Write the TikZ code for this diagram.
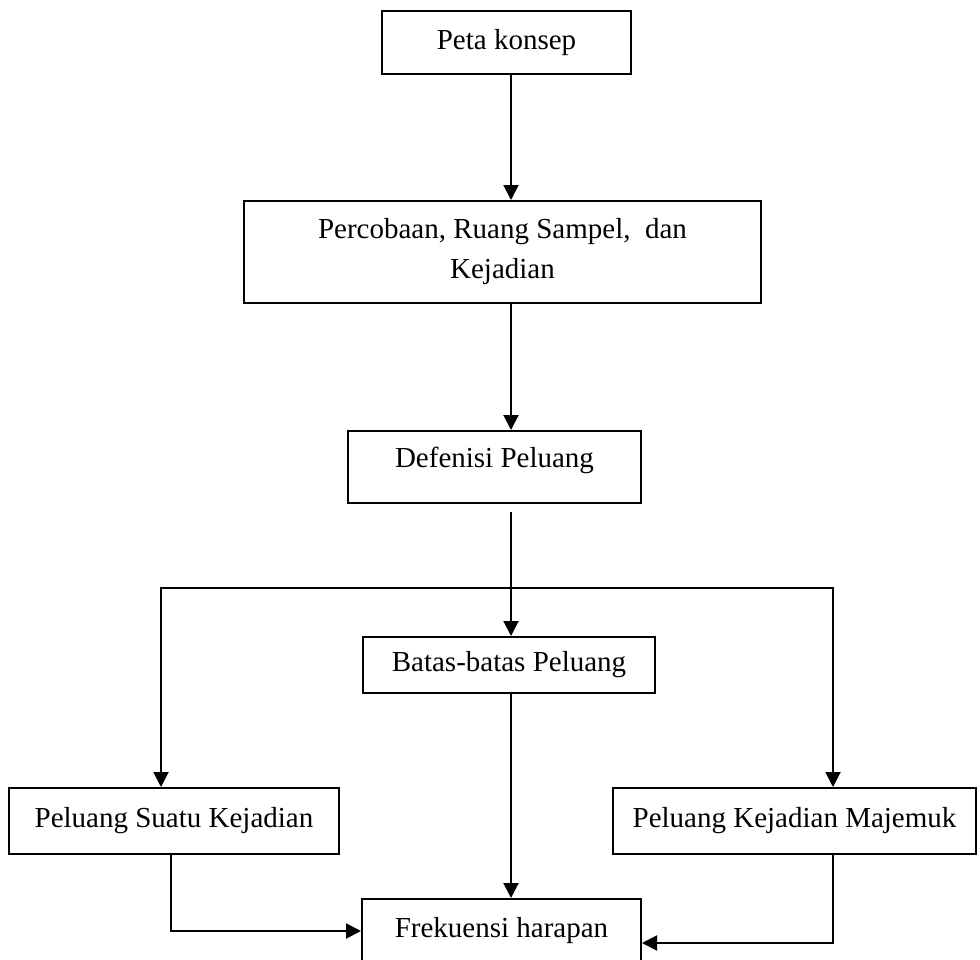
\documentclass[tikz,border=0pt]{standalone}
\usepackage{fontspec}
\setmainfont{Liberation Serif}
\usetikzlibrary{arrows.meta}

\begin{document}
\begin{tikzpicture}[
	x=0.5pt, y=-0.5pt,
	>={Triangle[length=7.5pt,width=7.5pt]},
	micaja/.style ={draw, line width=1pt, inner sep=0pt, align=center, font=\fontsize{14.5}{20}\selectfont},
	miflecha/.style ={->, line width=1pt},
	milinea/.style ={line width=1pt}]

	\useasboundingbox (0,0) rectangle (980,959);

	\def\ejex{511}% columna central de flechas
	\def\izq{161}
	\def\der{833}
	\def\ramal{588}

	\coordinate (eje) at (\ejex,0);
	\coordinate (RI) at (\izq,\ramal);
	\coordinate (RD) at (\der,\ramal);
	\coordinate (BI) at (171,0);

	\node [micaja, minimum width=124.5pt, minimum height=31.5pt] (peta) at (506.5,42.5) {Peta konsep};
	\node [micaja, minimum width=258.5pt, minimum height=51pt] (percobaan) at (502.5,252) {Percobaan, Ruang Sampel,\ \ dan\\Kejadian};
	\node [micaja, minimum width=146.5pt, minimum height=36pt, text depth=10pt] (defenisi) at (494.5,467) {Defenisi Peluang};
	\node [micaja, minimum width=146pt, minimum height=28pt] (batas) at (509,665) {Batas-batas Peluang};
	\node [micaja, minimum width=165pt, minimum height=33pt] (suatu) at (174,821) {Peluang Suatu Kejadian};
	\node [micaja, minimum width=181.5pt, minimum height=33pt] (majemuk) at (794.5,821) {Peluang Kejadian Majemuk};
	\node [micaja, minimum width=139.5pt, minimum height=32pt] (frek) at (501.5,931) {Frekuensi harapan};

	\draw [miflecha] (peta.south -| eje) -- (percobaan.north -| eje);
	\draw [miflecha] (percobaan.south -| eje) -- (defenisi.north -| eje);
	\draw [miflecha] ([yshift=-4pt]defenisi.south -| eje) -- (batas.north -| eje);

	\draw [miflecha] (RI -| eje) -| (RI |- suatu.north);
	\draw [miflecha] (RD -| eje) -| (RD |- majemuk.north);

	\draw [miflecha] (batas.south -| eje) -- (frek.north -| eje);
	\draw [miflecha] (suatu.south -| BI) |- (frek.west);
	\draw [miflecha] (majemuk.south -| RD) |- ([yshift=-6pt]frek.east);

\end{tikzpicture}
\end{document}
